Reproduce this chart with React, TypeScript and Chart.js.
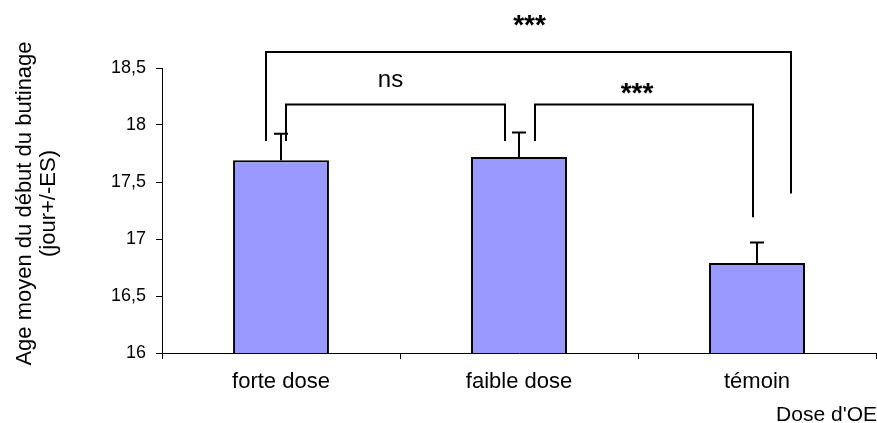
import React, { useEffect, useRef } from "react";
import { Chart, registerables } from "chart.js";

Chart.register(...registerables);

// ---- data ----
const categories = ["forte dose", "faible dose", "témoin"];
const means = [17.69, 17.72, 16.79];
const errors = [0.234, 0.214, 0.18];
const yTicks = [16, 16.5, 17, 17.5, 18, 18.5];
const yTitleLines = ["Age moyen du début du butinage", "(jour+/-ES)"];
const xTitle = "Dose d'OE";

// significance brackets
const bracketFrom = [0, 0, 1];
const bracketTo = [2, 1, 2];
const bracketLevel = [18.64, 18.18, 18.18];
const bracketLegFromEnd = [17.86, 17.86, 17.86];
const bracketLegToEnd = [17.4, 17.86, 17.19];
const bracketLabels = ["***", "ns", "***"];

// ---- styles ----
const FONT = '"Liberation Sans", Arial, sans-serif';
const BAR_FILL = "#9999FF";
const BRACKET_DX_FROM = [-15, 5, 16];
const BRACKET_DX_TO = [34, -14, -4];
const LABEL_DX = [1, -5, -7];
const LABEL_DY = [-18, -17, -2];
const LABEL_FONT = [`bold 28px ${FONT}`, `24px ${FONT}`, `bold 28px ${FONT}`];

const overlayPlugin = {
  id: "overlay",
  afterDraw(chart: any) {
    const ctx = chart.ctx;
    const y = chart.scales.y;
    const area = chart.chartArea;
    const meta = chart.getDatasetMeta(0);
    ctx.save();
    ctx.strokeStyle = "#000";
    ctx.fillStyle = "#000";
    ctx.lineWidth = 2;
    // error bars
    means.forEach((m, i) => {
      const bx = meta.data[i].x;
      const y0 = y.getPixelForValue(m);
      const y1 = y.getPixelForValue(m + errors[i]);
      ctx.beginPath();
      ctx.moveTo(bx, y0);
      ctx.lineTo(bx, y1);
      ctx.moveTo(bx - 7, y1);
      ctx.lineTo(bx + 7, y1);
      ctx.stroke();
    });
    // brackets
    bracketLabels.forEach((lab, k) => {
      const xa = meta.data[bracketFrom[k]].x + BRACKET_DX_FROM[k];
      const xb = meta.data[bracketTo[k]].x + BRACKET_DX_TO[k];
      const yt = y.getPixelForValue(bracketLevel[k]);
      const ya = y.getPixelForValue(bracketLegFromEnd[k]);
      const yb = y.getPixelForValue(bracketLegToEnd[k]);
      ctx.beginPath();
      ctx.moveTo(xa, ya);
      ctx.lineTo(xa, yt);
      ctx.lineTo(xb, yt);
      ctx.lineTo(xb, yb);
      ctx.stroke();
      ctx.font = LABEL_FONT[k];
      ctx.textAlign = "center";
      ctx.textBaseline = "alphabetic";
      ctx.fillText(lab, (xa + xb) / 2 + LABEL_DX[k], yt + LABEL_DY[k]);
    });
    // y title
    const cy = (area.top + area.bottom) / 2 - 7;
    ctx.font = `22px ${FONT}`;
    ctx.textAlign = "center";
    ctx.textBaseline = "middle";
    const lineX = [area.left - 137, area.left - 113];
    yTitleLines.forEach((t, i) => {
      ctx.save();
      ctx.translate(lineX[i], cy);
      ctx.rotate(-Math.PI / 2);
      ctx.fillText(t, 0, 0);
      ctx.restore();
    });
    // x title
    ctx.font = `21px ${FONT}`;
    ctx.textAlign = "right";
    ctx.textBaseline = "alphabetic";
    ctx.fillText(xTitle, area.right + 1, chart.height - 2);
    ctx.restore();
  },
};

export default function App() {
  const ref = useRef<HTMLCanvasElement>(null);
  useEffect(() => {
    if (!ref.current) return;
    const chart = new Chart(ref.current, {
      type: "bar",
      data: {
        labels: categories,
        datasets: [
          {
            data: means,
            backgroundColor: BAR_FILL,
            borderColor: "#000",
            borderWidth: 2,
            barPercentage: 0.403,
            categoryPercentage: 1,
          },
        ],
      },
      options: {
        animation: false,
        responsive: false,
        devicePixelRatio: 1,
        events: [],
        layout: { padding: { top: 68, right: 1, left: 0, bottom: 0 } },
        plugins: { legend: { display: false }, tooltip: { enabled: false } },
        scales: {
          x: {
            afterFit: (s: any) => {
              s.height = 70;
            },
            grid: {
              drawOnChartArea: false,
              drawTicks: true,
              tickLength: 6,
              color: "#000",
              offset: true,
            },
            border: { display: true, color: "#000", width: 1 },
            ticks: {
              color: "#000",
              padding: 10,
              font: { family: FONT, size: 22 },
              maxRotation: 0,
            },
          },
          y: {
            min: 16,
            max: 18.5,
            afterFit: (s: any) => {
              s.width = 162;
            },
            afterBuildTicks: (s: any) => {
              s.ticks = yTicks.map((v) => ({ value: v }));
            },
            grid: {
              drawOnChartArea: false,
              drawTicks: true,
              tickLength: 6,
              color: "#000",
            },
            border: { display: true, color: "#000", width: 1 },
            ticks: {
              color: "#000",
              padding: 10,
              font: { family: FONT, size: 18 },
              callback: (v: any) => String(v).replace(".", ","),
            },
          },
        },
      },
      plugins: [overlayPlugin],
    });
    return () => chart.destroy();
  }, []);
  return (
    <div style={{ position: "fixed", left: 0, top: 0, width: 877, height: 423, background: "#fff" }}>
      <canvas ref={ref} width={877} height={423} />
    </div>
  );
}
